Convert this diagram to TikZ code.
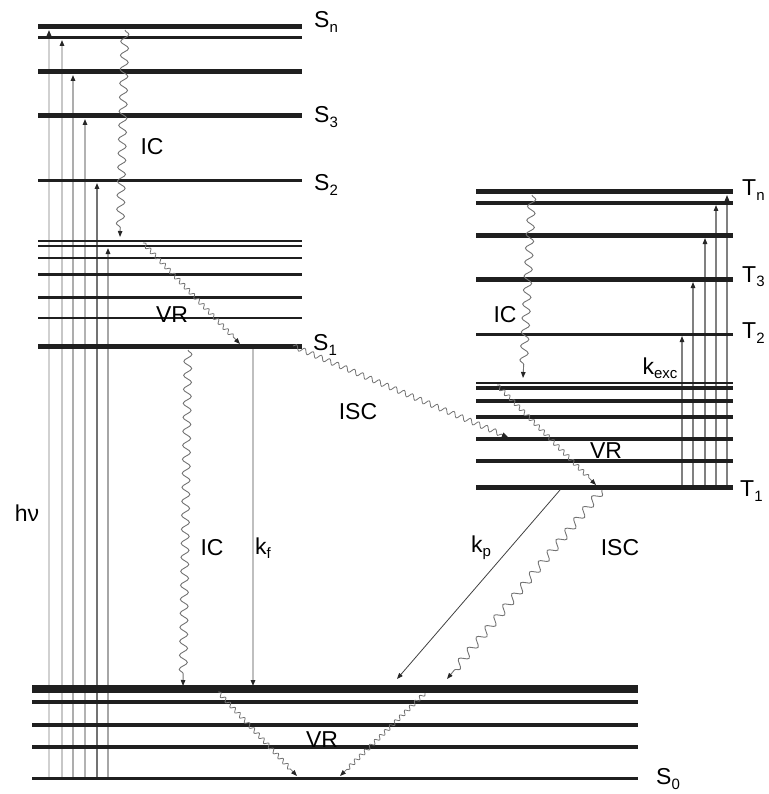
\documentclass[tikz,border=0pt]{standalone}
\usepackage{fontspec}
\setmainfont{Liberation Sans}
\usetikzlibrary{arrows.meta,decorations.pathmorphing}
\newcommand{\lsub}[1]{\raisebox{-0.35ex}{\fontsize{15}{15}\selectfont #1}}
\begin{document}
\begin{tikzpicture}[x=1pt,y=-1pt,
  lvl/.style={line width=#1, draw=black!88},
  tip/.style={-{Triangle[length=6pt,width=4.5pt,black!85]}},
  exc/.style={line width=1.4pt, draw=#1, tip},
  bigwig/.style={draw=black!55, line width=0.9pt, tip, decorate,
    decoration={snake, amplitude=4pt, segment length=14pt, post length=7pt}},
  midwig/.style={draw=black!55, line width=0.8pt, tip, decorate,
    decoration={snake, amplitude=2.6pt, segment length=9pt, post length=7pt}},
  smallwig/.style={draw=black!55, line width=0.8pt, tip, decorate,
    decoration={snake, amplitude=2pt, segment length=7pt, post length=7pt}},
  lab/.style={font=\fontsize{23}{23}\selectfont, inner sep=0pt},
]
\useasboundingbox (0,0) rectangle (768,794);

% ---------- named end points ----------
\coordinate (e1s) at (49,778);  \coordinate (e1e) at (49,30);
\coordinate (e2s) at (62,778);  \coordinate (e2e) at (62,40);
\coordinate (e3s) at (73,778);  \coordinate (e3e) at (73,75);
\coordinate (e4s) at (85,778);  \coordinate (e4e) at (85,119);
\coordinate (e5s) at (97,778);  \coordinate (e5e) at (97,183);
\coordinate (e6s) at (108,778); \coordinate (e6e) at (108,248);

\coordinate (t1s) at (682,486); \coordinate (t1e) at (682,336);
\coordinate (t2s) at (693,486); \coordinate (t2e) at (693,282);
\coordinate (t3s) at (705,486); \coordinate (t3e) at (705,238);
\coordinate (t4s) at (716,486); \coordinate (t4e) at (716,205);
\coordinate (t5s) at (727,486); \coordinate (t5e) at (727,195);

\coordinate (fls) at (253,349); \coordinate (fle) at (253,686);
\coordinate (ics1) at (125,30); \coordinate (ice1) at (120,237);
\coordinate (vrs1) at (143,243); \coordinate (vre1) at (240,344);
\coordinate (ics2) at (188,350); \coordinate (ice2) at (183,686);
\coordinate (iscs1) at (293,346); \coordinate (isce1) at (508,437);
\coordinate (ict1) at (532,195); \coordinate (icte1) at (523,378);
\coordinate (vrt1) at (497,385); \coordinate (vrte1) at (596,485);
\coordinate (kps) at (560,490); \coordinate (kpe) at (397,679);
\coordinate (iscs2) at (602,490); \coordinate (isce2) at (447,679);
\coordinate (vra) at (218,692); \coordinate (vrae) at (297,776);
\coordinate (vrb) at (425,693); \coordinate (vrbe) at (340,776);

% ---------- excitation (h nu) ----------
\draw[exc=black!18] (e1s) -- (e1e);
\draw[exc=black!22] (e2s) -- (e2e);
\draw[exc=black!32] (e3s) -- (e3e);
\draw[exc=black!30] (e4s) -- (e4e);
\draw[exc=black!55] (e5s) -- (e5e);
\draw[exc=black!35] (e6s) -- (e6e);

% ---------- triplet excitation (k_exc) ----------
\draw[exc=black!50, line width=1.1pt] (t1s) -- (t1e);
\draw[exc=black!50, line width=1.1pt] (t2s) -- (t2e);
\draw[exc=black!50, line width=1.1pt] (t3s) -- (t3e);
\draw[exc=black!50, line width=1.1pt] (t4s) -- (t4e);
\draw[exc=black!50, line width=1.1pt] (t5s) -- (t5e);

% ---------- singlet levels ----------
\foreach \y/\w in {27/5pt,38/3pt,72/5pt,116/5pt,181/3pt,241/2.6pt,246/2.6pt,258/2pt,274/3pt,297/3pt,318/2pt,346/5pt}
  \draw[lvl=\w] (38,\y) -- (302,\y);

% ---------- triplet levels ----------
\foreach \y/\w in {192/5pt,203/3.5pt,235/5pt,279/5pt,334/3pt,383/2pt,388/3.5pt,401/3.5pt,417/3.5pt,439/3.5pt,461/3.5pt,487/5pt}
  \draw[lvl=\w] (476,\y) -- (733,\y);

% ---------- S0 levels ----------
\foreach \y/\w in {689/8pt,702/3.5pt,725/3.5pt,747/3.5pt,778/3pt}
  \draw[lvl=\w] (32,\y) -- (638,\y);

% ---------- processes ----------
\draw[line width=1.4pt, draw=black!25, tip] (fls) -- (fle);
\draw[bigwig] (ics1) -- (ice1);
\draw[smallwig] (vrs1) -- (vre1);
\draw[bigwig] (ics2) -- (ice2);
\draw[midwig] (iscs1) -- (isce1);
\draw[bigwig] (ict1) -- (icte1);
\draw[smallwig] (vrt1) -- (vrte1);
\draw[line width=0.8pt, draw=black!75, tip] (kps) -- (kpe);
\draw[bigwig] (iscs2) -- (isce2);
\draw[smallwig] (vra) -- (vrae);
\draw[smallwig] (vrb) -- (vrbe);

% ---------- labels ----------
\node[lab, anchor=west] (lSn) at (314,22) {S\lsub{n}};
\node[lab, anchor=west] (lS3) at (314,117) {S\lsub{3}};
\node[lab, anchor=west] (lS2) at (314,185) {S\lsub{2}};
\node[lab, anchor=west] (lS1) at (313,345) {S\lsub{1}};
\node[lab, anchor=west] (lS0) at (656,779) {S\lsub{0}};
\node[lab, anchor=west] (lTn) at (742,190) {T\lsub{n}};
\node[lab, anchor=west] (lT3) at (742,277) {T\lsub{3}};
\node[lab, anchor=west] (lT2) at (742,333) {T\lsub{2}};
\node[lab, anchor=west] (lT1) at (740,491) {T\lsub{1}};
\node[lab] (lhv) at (27,513) {hν};
\node[lab] (lIC1) at (152,147) {IC};
\node[lab] (lVR1) at (172,315) {VR};
\node[lab] (lIC2) at (212,548) {IC};
\node[lab] (lkf) at (263,548) {k\lsub{f}};
\node[lab] (lISC1) at (358,412) {ISC};
\node[lab] (lIC3) at (505,315) {IC};
\node[lab] (lkexc) at (660,368) {k\lsub{exc}};
\node[lab] (lVR2) at (606,451) {VR};
\node[lab] (lkp) at (481,548) {k\lsub{p}};
\node[lab] (lISC2) at (620,548) {ISC};
\node[lab] (lVR3) at (322,740) {VR};
\end{tikzpicture}
\end{document}
